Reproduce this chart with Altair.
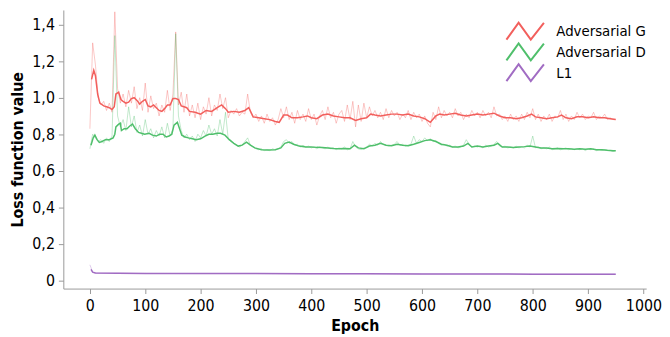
import altair as alt
import pandas as pd

SERIES = ["Adversarial G", "Adversarial D", "L1"]
COLORS = ["#f25f5c", "#4fbf6b", "#a16cc3"]

# raw (noisy) values, every 5 epochs 0..950
raw_epochs = list(range(0, 951, 5))
raw_g = [0.83, 1.30, 1.18, 1.00, 0.96, 0.98, 0.93, 0.97, 0.92, 1.47, 1.05, 0.97, 1.02, 0.95, 1.04, 0.97, 1.06, 0.94, 1.00, 0.93,
         1.08, 0.92, 1.01, 0.94, 0.97, 0.90, 0.96, 0.92, 1.04, 0.93, 1.02, 1.36, 0.96, 1.03, 0.92, 1.02, 0.90, 0.96, 0.89, 0.97,
         0.88, 0.95, 0.91, 1.00, 0.90, 0.96, 0.93, 1.02, 0.94, 1.00, 0.89, 0.93, 0.91, 0.94, 0.90, 0.92, 0.91, 1.02, 0.92, 0.89,
         0.91, 0.87, 0.90, 0.86, 0.91, 0.87, 0.89, 0.85, 0.88, 0.94, 0.89, 0.95, 0.88, 0.92, 0.86, 0.93, 0.88, 0.91, 0.87, 0.94,
         0.88, 0.91, 0.85, 0.90, 0.93, 0.88, 0.95, 0.89, 0.92, 0.86, 0.91, 0.93, 0.87, 0.96, 0.88, 0.98, 0.84, 0.96, 0.87, 0.97,
         0.89, 0.95, 0.90, 0.93, 0.89, 0.92, 0.88, 0.94, 0.89, 0.93, 0.90, 0.92, 0.88, 0.91, 0.89, 0.93, 0.88, 0.92, 0.89, 0.91,
         0.87, 0.90, 0.86, 0.84, 0.92, 0.88, 0.95, 0.89, 0.93, 0.90, 0.92, 0.89, 0.94, 0.90, 0.92, 0.88, 0.91, 0.89, 0.93, 0.90,
         0.92, 0.89, 0.93, 0.90, 0.92, 0.89, 0.95, 0.90, 0.91, 0.88, 0.90, 0.87, 0.91, 0.88, 0.90, 0.87, 0.91, 0.88, 0.92, 0.89,
         0.94, 0.88, 0.91, 0.87, 0.90, 0.88, 0.91, 0.87, 0.90, 0.89, 0.93, 0.88, 0.91, 0.87, 0.90, 0.88, 0.92, 0.89, 0.91, 0.88,
         0.90, 0.89, 0.92, 0.88, 0.90, 0.89, 0.91, 0.88, 0.89, 0.88, 0.88]
raw_d = [0.72, 0.80, 0.78, 0.76, 0.77, 0.75, 0.78, 0.76, 0.79, 1.34, 0.90, 0.84, 0.88, 0.82, 0.95, 0.84, 0.90, 0.81, 0.85, 0.79,
         0.88, 0.80, 0.83, 0.78, 0.82, 0.79, 0.84, 0.78, 0.86, 0.79, 0.83, 1.35, 0.90, 0.82, 0.78, 0.80, 0.77, 0.79, 0.76, 0.80,
         0.78, 0.82, 0.79, 0.85, 0.80, 0.83, 0.79, 0.88, 0.80, 0.92, 0.77, 0.76, 0.75, 0.74, 0.73, 0.74, 0.76, 0.78, 0.74, 0.73,
         0.72, 0.715, 0.72, 0.71, 0.715, 0.71, 0.72, 0.715, 0.72, 0.73, 0.76, 0.77, 0.75, 0.76, 0.74, 0.745, 0.73, 0.74, 0.73, 0.735,
         0.725, 0.73, 0.72, 0.73, 0.725, 0.72, 0.73, 0.72, 0.725, 0.715, 0.725, 0.72, 0.73, 0.715, 0.72, 0.76, 0.73, 0.72, 0.715, 0.725,
         0.73, 0.745, 0.735, 0.75, 0.74, 0.76, 0.745, 0.74, 0.735, 0.74, 0.745, 0.76, 0.74, 0.745, 0.735, 0.74, 0.745, 0.79, 0.75, 0.77,
         0.76, 0.78, 0.765, 0.775, 0.76, 0.765, 0.75, 0.74, 0.745, 0.735, 0.74, 0.73, 0.735, 0.725, 0.73, 0.74, 0.77, 0.745, 0.73, 0.735,
         0.73, 0.735, 0.725, 0.74, 0.73, 0.735, 0.745, 0.76, 0.735, 0.73, 0.735, 0.725, 0.73, 0.725, 0.735, 0.725, 0.73, 0.725, 0.74, 0.73,
         0.79, 0.725, 0.73, 0.72, 0.725, 0.72, 0.73, 0.715, 0.72, 0.725, 0.715, 0.72, 0.725, 0.715, 0.72, 0.715, 0.72, 0.715, 0.72, 0.71,
         0.72, 0.715, 0.72, 0.71, 0.715, 0.71, 0.715, 0.71, 0.71, 0.705, 0.71]
raw_l1_epochs = [0, 2, 4, 6, 10, 50, 100, 200, 300, 400, 500, 600, 700, 800, 900, 950]
raw_l1 = [0.085, 0.07, 0.05, 0.043, 0.04, 0.039, 0.038, 0.037, 0.037, 0.036, 0.036, 0.035, 0.035, 0.034, 0.034, 0.034]

# smoothed values
sm_g_epochs = [3, 7, 10, 14, 18, 25, 30, 35, 40, 44, 47, 52, 56, 60, 65, 70, 75, 80, 85, 90, 95, 100, 105, 110, 115, 120, 125,
               130, 135, 140, 145, 150, 155, 160, 165, 170, 175, 180, 190, 200, 210, 220, 230, 238, 245, 250, 260, 270, 280,
               287, 295, 305, 315, 325, 335, 342, 350, 357, 365, 375, 385, 393, 400, 410, 420, 430, 440, 450, 460, 470, 480,
               490, 500, 507, 515, 525, 535, 545, 555, 565, 575, 585, 595, 605, 615, 625, 632, 640, 650, 660, 670, 680, 690,
               700, 710, 720, 730, 740, 750, 760, 770, 780, 790, 798, 805, 815, 825, 835, 845, 852, 860, 870, 880, 890, 900,
               910, 920, 930, 940, 950]
sm_g = [1.10, 1.15, 1.12, 1.02, 0.97, 0.955, 0.95, 0.945, 0.935, 0.95, 1.02, 1.03, 0.99, 0.98, 0.97, 0.975, 0.995, 1.0, 0.985,
        0.965, 0.98, 0.99, 0.955, 0.95, 0.96, 0.945, 0.93, 0.925, 0.94, 0.96, 0.96, 0.995, 0.995, 0.99, 0.955, 0.95, 0.945,
        0.925, 0.92, 0.91, 0.93, 0.925, 0.945, 0.96, 0.94, 0.92, 0.925, 0.92, 0.93, 0.945, 0.895, 0.89, 0.885, 0.88, 0.87,
        0.865, 0.905, 0.905, 0.89, 0.89, 0.895, 0.90, 0.89, 0.885, 0.905, 0.91, 0.90, 0.895, 0.89, 0.89, 0.875, 0.885, 0.89,
        0.91, 0.905, 0.90, 0.905, 0.91, 0.91, 0.905, 0.91, 0.90, 0.895, 0.885, 0.865, 0.90, 0.91, 0.905, 0.91, 0.915, 0.905,
        0.90, 0.905, 0.91, 0.905, 0.91, 0.915, 0.90, 0.89, 0.89, 0.885, 0.89, 0.90, 0.91, 0.895, 0.89, 0.885, 0.89, 0.895,
        0.905, 0.89, 0.885, 0.895, 0.895, 0.89, 0.895, 0.89, 0.89, 0.885, 0.88]
sm_d_epochs = [2, 6, 9, 13, 17, 22, 28, 35, 42, 45, 47, 52, 55, 57, 62, 67, 72, 77, 82, 88, 93, 99, 107, 113, 120, 126, 132,
               138, 143, 148, 152, 158, 162, 166, 172, 178, 185, 192, 200, 208, 215, 222, 230, 236, 244, 252, 260, 268, 275,
               283, 290, 298, 310, 322, 335, 345, 352, 360, 368, 378, 390, 400, 410, 420, 430, 440, 450, 460, 470, 478, 485,
               495, 505, 515, 525, 535, 545, 555, 565, 575, 585, 595, 605, 615, 625, 635, 645, 655, 665, 675, 683, 690, 700,
               710, 720, 730, 737, 745, 755, 765, 775, 785, 795, 805, 815, 825, 835, 845, 855, 865, 875, 885, 895, 905, 915,
               925, 935, 945, 950]
sm_d = [0.74, 0.78, 0.795, 0.77, 0.755, 0.76, 0.77, 0.77, 0.78, 0.80, 0.84, 0.855, 0.86, 0.82, 0.83, 0.83, 0.845, 0.855,
        0.83, 0.81, 0.805, 0.80, 0.805, 0.795, 0.79, 0.80, 0.80, 0.785, 0.79, 0.80, 0.85, 0.865, 0.83, 0.795, 0.785, 0.78,
        0.775, 0.77, 0.775, 0.79, 0.80, 0.80, 0.805, 0.805, 0.795, 0.77, 0.75, 0.735, 0.74, 0.757, 0.74, 0.725, 0.715,
        0.713, 0.715, 0.725, 0.75, 0.757, 0.745, 0.735, 0.73, 0.73, 0.728, 0.727, 0.725, 0.722, 0.72, 0.722, 0.72, 0.74,
        0.725, 0.72, 0.735, 0.74, 0.75, 0.74, 0.737, 0.745, 0.74, 0.737, 0.745, 0.755, 0.765, 0.77, 0.76, 0.745, 0.74,
        0.73, 0.73, 0.735, 0.75, 0.73, 0.735, 0.73, 0.735, 0.74, 0.75, 0.73, 0.73, 0.727, 0.73, 0.732, 0.735, 0.73, 0.725,
        0.725, 0.72, 0.722, 0.72, 0.72, 0.718, 0.72, 0.718, 0.72, 0.715, 0.715, 0.712, 0.71, 0.71]
sm_l1_epochs = [2, 5, 10, 50, 100, 200, 300, 400, 500, 600, 700, 800, 900, 950]
sm_l1 = [0.06, 0.045, 0.04, 0.039, 0.038, 0.037, 0.037, 0.036, 0.036, 0.035, 0.035, 0.034, 0.034, 0.034]

Y_TICKS = [0, 0.2, 0.4, 0.6, 0.8, 1.0, 1.2, 1.4]
X_TICKS = list(range(0, 1001, 100))


def frame(name, eps, vals):
    return pd.DataFrame({"series": name, "epoch": eps, "value": vals})


raw = pd.concat([frame(SERIES[0], raw_epochs, raw_g), frame(SERIES[1], raw_epochs, raw_d),
                 frame(SERIES[2], raw_l1_epochs, raw_l1)])
smooth = pd.concat([frame(SERIES[0], sm_g_epochs, sm_g), frame(SERIES[1], sm_d_epochs, sm_d),
                    frame(SERIES[2], sm_l1_epochs, sm_l1)])

FONT = "Liberation Sans Narrow, DejaVu Sans Condensed, sans-serif"

x = alt.X("epoch:Q", title="Epoch",
          scale=alt.Scale(domain=[-48, 1005], nice=False, zero=False),
          axis=alt.Axis(values=X_TICKS, grid=False, format="d"))
y = alt.Y("value:Q", title="Loss function value",
          scale=alt.Scale(domain=[-0.045, 1.48], nice=False, zero=False),
          axis=alt.Axis(values=Y_TICKS, grid=False,
                        labelExpr="datum.value == 0 ? '0' : replace(format(datum.value, '.1f'), '.', ',')"))
color_scale = alt.Scale(domain=SERIES, range=COLORS)

raw_layer = alt.Chart(raw).mark_line(strokeWidth=1, opacity=0.35).encode(
    x=x, y=y,
    color=alt.Color("series:N", scale=color_scale, legend=None),
    detail="series:N",
)

smooth_layer = alt.Chart(smooth).mark_line(strokeWidth=1.5).encode(
    x=x, y=y,
    color=alt.Color("series:N", scale=color_scale, sort=SERIES,
                    legend=alt.Legend(title=None, orient="none", legendX=460, legendY=14,
                                      symbolType="M-4,1.8L-1.4,-1.8L1.2,1.8L4,-1.8",
                                      symbolSize=90, symbolStrokeWidth=2, symbolFillColor="transparent",
                                      labelOffset=24, rowPadding=-8, labelLimit=300,
                                      labelFont=FONT, labelFontSize=15, labelColor="#000")),
)

chart = (raw_layer + smooth_layer).resolve_legend(color="independent").properties(
    width=662, height=329,
    autosize=alt.AutoSizeParams(type="fit", contains="padding"),
    padding={"left": 2, "top": 0, "right": 0, "bottom": 2},
).configure_view(
    stroke=None
).configure_axis(
    labelFont=FONT, titleFont=FONT, labelFontSize=16, titleFontSize=16, titleFontWeight="bold",
    labelColor="#000", titleColor="#000", domainColor="#999", tickColor="#999", tickSize=5,
    labelPadding=4,
).configure_axisX(titlePadding=4).configure_axisY(titlePadding=6)

chart.save("out.html", embed_options={"renderer": "svg", "actions": False})
